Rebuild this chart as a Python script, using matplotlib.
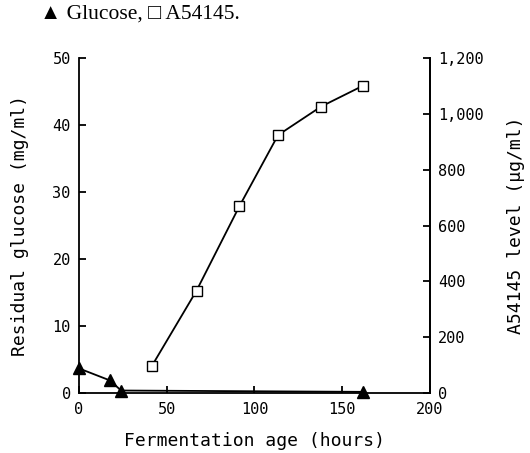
import matplotlib.pyplot as plt

# glucose (left axis)
glc_hours = [0, 17.7, 24, 162]
glc_mg = [3.7, 1.9, 0.4, 0.2]

# A54145 (right axis)
a54_hours = [41.5, 67, 91.5, 113.5, 138, 162]
a54_level = [97, 367, 670, 924, 1026, 1101]

xticks = [0, 50, 100, 150, 200]
yticks_left = [0, 10, 20, 30, 40, 50]
yticks_right = [0, 200, 400, 600, 800, 1000, 1200]
yticklabels_right = ['0', '200', '400', '600', '800', '1,000', '1,200']

mono = 'DejaVu Sans Mono'

fig = plt.figure(figsize=(5.3, 4.53), dpi=100)
ax = fig.add_axes([0.149, 0.132, 0.662, 0.740])
ax2 = ax.twinx()

ax.plot(glc_hours, glc_mg, color='black', lw=1.3, marker='^', ms=8,
        mfc='black', mec='black', clip_on=False, zorder=3)
ax2.plot(a54_hours, a54_level, color='black', lw=1.3, marker='s', ms=7,
         mfc='white', mec='black', mew=1.0, clip_on=False)

ax.set_xlim(0, 200)
ax.set_ylim(0, 50)
ax2.set_ylim(0, 1200)

ax.set_xticks(xticks)
ax.set_yticks(yticks_left)
ax2.set_yticks(yticks_right)
ax2.set_yticklabels(yticklabels_right)

for a in (ax, ax2):
    a.spines['top'].set_visible(False)
    for s in a.spines.values():
        s.set_linewidth(1.3)
ax2.spines['left'].set_visible(False)
ax2.spines['bottom'].set_visible(False)

ax.tick_params(direction='in', length=5, width=1.3, labelsize=11, pad=6)
ax2.tick_params(direction='in', length=5, width=1.3, labelsize=11, pad=6)
for lab in ax.get_xticklabels() + ax.get_yticklabels() + ax2.get_yticklabels():
    lab.set_family(mono)

ax.set_xlabel('Fermentation age (hours)', family=mono, fontsize=13, labelpad=11)
ax.set_ylabel('Residual glucose (mg/ml)', family=mono, fontsize=13, labelpad=17)
ax2.set_ylabel('A54145 level (µg/ml)', family=mono, fontsize=13, labelpad=17)

fig.text(0.075, 0.99, '▲ Glucose, □ A54145.', fontsize=15.5, va='top',
         family=['Liberation Serif', 'DejaVu Sans'])

plt.savefig('out.png', dpi=100)
